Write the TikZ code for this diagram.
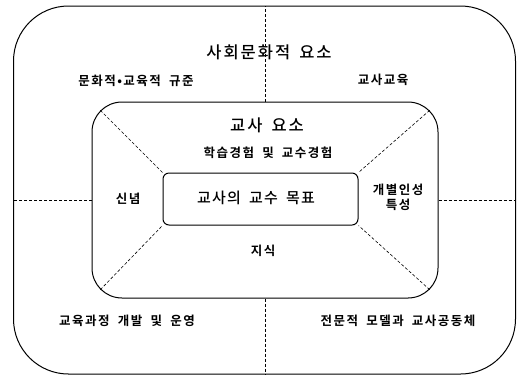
\documentclass[tikz,border=0pt]{standalone}
\usepackage{fontspec}
\setmainfont{Noto Sans CJK KR}
\newfontfamily\krlabel{Noto Sans CJK KR}[UprightFont=* Bold, LetterSpace=12, WordSpace=1.9]
\newfontfamily\krtitle{Noto Sans CJK KR}[UprightFont=* Medium, LetterSpace=12, WordSpace=1.6]
\newfontfamily\krgoal{Noto Sans CJK KR}[UprightFont=* Medium, LetterSpace=8, WordSpace=1.8]
\usepackage{tikz}
\usetikzlibrary{calc}

\tikzset{
    box/.style={draw, line width=1pt, rectangle, inner sep=0pt},
    sep/.style={draw, line width=0.6pt, dash pattern=on 3pt off 2pt},
    label/.style={font=\krlabel\fontsize{12.5}{15}\selectfont, align=center},
    title/.style={font=\krtitle\fontsize{16.5}{19}\selectfont},
    goaltitle/.style={font=\krgoal\fontsize{15}{18}\selectfont}
}

\begin{document}
\begin{tikzpicture}[x=1pt, y=-1pt]
    \useasboundingbox (0, 0) rectangle (518, 376);

    % The three frames
    \node[box, rounded corners=55pt, minimum width=502pt, minimum height=368pt] (outer) at (264.5, 190) {};
    \node[box, rounded corners=30pt, minimum width=346pt, minimum height=196pt] (inner) at (265, 200) {};
    \node[box, rounded corners=6pt, minimum width=195pt, minimum height=52pt] (goal) at (260.5, 199) {};

    % Dashed borders of the outer areas
    \draw[sep] (inner.north) -- (inner.north |- outer.north);
    \draw[sep] (inner.south) -- (inner.south |- outer.south);
    \draw[sep] (inner.west) -- (inner.west -| outer.west);
    \draw[sep] (inner.east) -- (inner.east -| outer.east);

    % Dashed borders of the inner areas
    \draw[sep] ($(inner.north west)+(8.8, 8.8)$) -- (goal.north west);
    \draw[sep] ($(inner.north east)+(-8.8, 8.8)$) -- (goal.north east);
    \draw[sep] ($(inner.south west)+(8.8, -8.8)$) -- (goal.south west);
    \draw[sep] ($(inner.south east)+(-8.8, -8.8)$) -- (goal.south east);

    % Socio-cultural factors
    \node[title] (social) at (269, 52) {사회문화적 요소};
    \node[label] (norm) at (136, 81) {문화적•교육적 규준};
    \node[label] (training) at (383, 80) {교사교육};
    \node[label] (curriculum) at (127, 321) {교육과정 개발 및 운영};
    \node[label] (community) at (398, 321) {전문적 모델과 교사공동체};

    % Teacher factors
    \node[title] (teacher) at (267, 125) {교사 요소};
    \node[label] (experience) at (268, 153) {학습경험 및 교수경험};
    \node[label] (belief) at (128, 199) {신념};
    \node[label] (personal) at (398, 197) {개별인성\\특성};
    \node[label] (knowledge) at (263, 251) {지식};
    \node[goaltitle] at (256, 198) {교사의 교수 목표};
\end{tikzpicture}
\end{document}
